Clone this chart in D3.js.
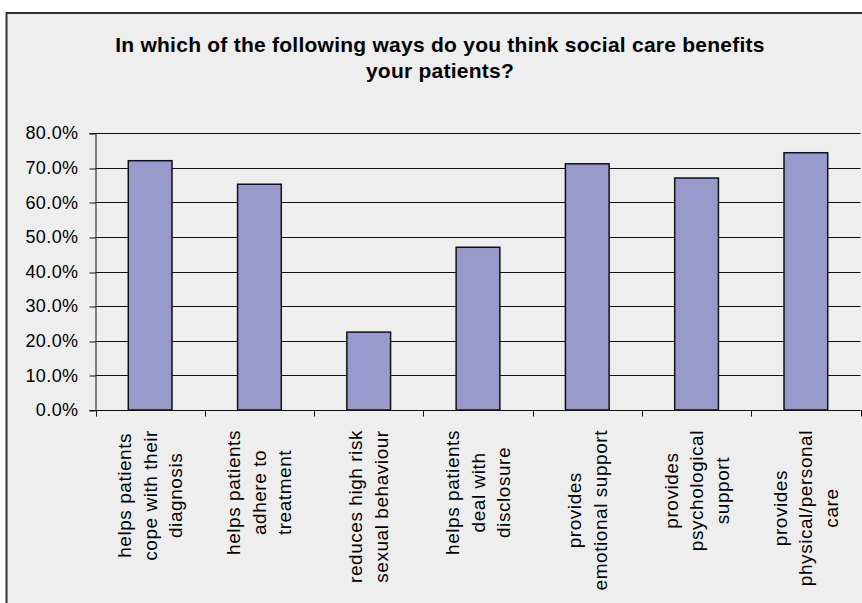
<!DOCTYPE html>
<html>
<head>
<meta charset="utf-8">
<script src="https://cdn.jsdelivr.net/npm/d3@7"></script>
<style>
  html, body { margin: 0; padding: 0; background: #ffffff; }
  svg { display: block; }
  text { font-family: "Liberation Sans", Arial, sans-serif; fill: #000; }
</style>
</head>
<body>
<svg id="chart" width="862" height="603"></svg>
<script>
// ---- Data ----
const titleLines = ["In which of the following ways do you think social care benefits", "your patients?"];
const categories = [
  "helps patients cope with their diagnosis",
  "helps patients adhere to treatment",
  "reduces high risk sexual behaviour",
  "helps patients deal with disclosure",
  "provides emotional support",
  "provides psychological support",
  "provides physical/personal care"
];
const categoryLines = [
  ["helps patients", "cope with their", "diagnosis"],
  ["helps patients", "adhere to", "treatment"],
  ["reduces high risk", "sexual behaviour"],
  ["helps patients", "deal with", "disclosure"],
  ["provides", "emotional support"],
  ["provides", "psychological", "support"],
  ["provides", "physical/personal", "care"]
];
const values = [0.72, 0.652, 0.225, 0.47, 0.711, 0.67, 0.743];
const yTicks = [0, 0.1, 0.2, 0.3, 0.4, 0.5, 0.6, 0.7, 0.8];

// ---- Layout ----
const svg = d3.select("#chart");
const plot = { left: 95.5, right: 860.5, top: 133, bottom: 410 };

// frame
svg.append("rect")
  .attr("x", 6.5).attr("y", 13)
  .attr("width", 900).attr("height", 700)
  .attr("fill", "#eeeeee")
  .attr("stroke", "#333333").attr("stroke-width", 2);

// title
const title = svg.append("text")
  .attr("text-anchor", "middle")
  .style("font-weight", "bold")
  .style("font-size", "21px")
  .style("letter-spacing", "0.25px");
titleLines.forEach((t, i) => {
  title.append("tspan").attr("x", 440).attr("y", 52 + i * 25.5).text(t);
});

const x = d3.scaleBand()
  .domain(categories)
  .range([plot.left, plot.right])
  .paddingInner(0.6)
  .paddingOuter(0.3);

const y = d3.scaleLinear().domain([0, 0.8]).range([plot.bottom, plot.top]);

// gridlines
svg.append("g").selectAll("line")
  .data(yTicks.filter(d => d > 0))
  .join("line")
  .attr("x1", plot.left).attr("x2", plot.right)
  .attr("y1", d => Math.round(y(d)) + 0.5).attr("y2", d => Math.round(y(d)) + 0.5)
  .attr("stroke", "#111").attr("stroke-width", 1);

// y axis
const yAxis = d3.axisLeft(y)
  .tickValues(yTicks)
  .tickFormat(d3.format(".1%"))
  .tickSize(6)
  .tickPadding(11);
const gy = svg.append("g")
  .attr("transform", `translate(${plot.left},0)`)
  .call(yAxis);
gy.select(".domain").attr("stroke", "#111");
gy.selectAll(".tick line").attr("stroke", "#111")
  .attr("transform", d => `translate(0,${Math.round(y(d)) + 0.5 - y(d)})`);
gy.selectAll(".tick text")
  .style("font-size", "18px")
  .style("letter-spacing", "0.4px")
  .style("font-family", "'Liberation Sans', Arial, sans-serif")
  .attr("fill", "#000");

// bars
svg.append("g").selectAll("rect")
  .data(categories)
  .join("rect")
  .attr("x", d => x(d))
  .attr("y", (d, i) => y(values[i]))
  .attr("width", x.bandwidth())
  .attr("height", (d, i) => y(0) - y(values[i]))
  .attr("fill", "#9999cc")
  .attr("stroke", "#111")
  .attr("stroke-width", 1.5);

// x axis line
svg.append("line")
  .attr("x1", plot.left).attr("x2", plot.right)
  .attr("y1", plot.bottom + 0.5).attr("y2", plot.bottom + 0.5)
  .attr("stroke", "#111");
// x ticks at band boundaries
const step = x.step();
const boundaries = d3.range(categories.length + 1).map(i => plot.left + i * step);
svg.append("g").selectAll("line")
  .data(boundaries)
  .join("line")
  .attr("x1", d => Math.round(d) + 0.5).attr("x2", d => Math.round(d) + 0.5)
  .attr("y1", plot.bottom).attr("y2", plot.bottom + 6.5)
  .attr("stroke", "#111");

// category labels
const labelTop = 430;
const lineGap = 25.5;
const lg = svg.append("g");
categories.forEach((c, ci) => {
  const lines = categoryLines[ci];
  const cx = x(c) + x.bandwidth() / 2;
  const g = lg.append("g");
  const texts = lines.map((t, i) => g.append("text")
    .attr("text-anchor", "middle")
    .style("font-size", "19px")
    .style("letter-spacing", "0.55px")
    .text(t));
  const maxLen = d3.max(texts, t => t.node().getComputedTextLength());
  const cy = labelTop + maxLen / 2;
  texts.forEach((t, i) => {
    const bx = cx + (i - (lines.length - 1) / 2) * lineGap + 6.5;
    t.attr("transform", `translate(${bx},${cy}) rotate(-90)`);
  });
});
</script>
</body>
</html>
